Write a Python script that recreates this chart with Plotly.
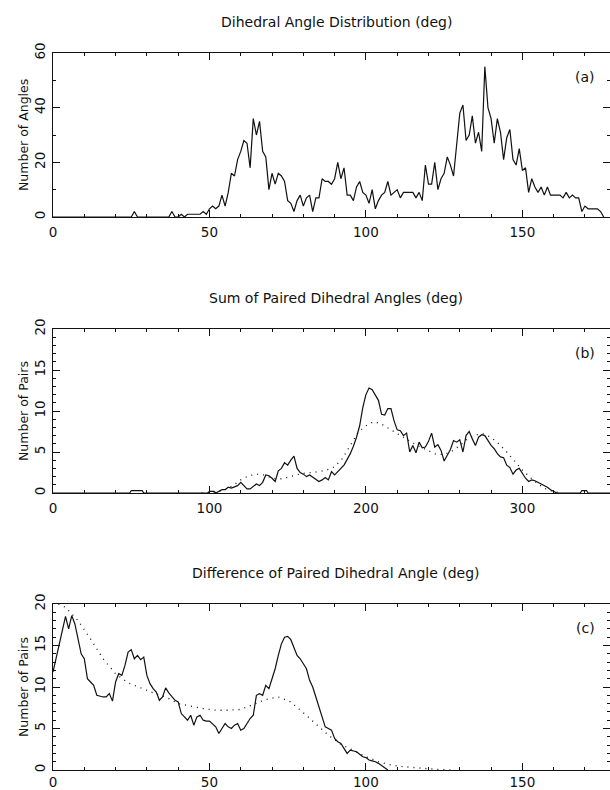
import plotly.graph_objects as go

# ---------------- data ----------------
# (a) Dihedral angle distribution, 1-degree bins 0..176
angle_x = list(range(0, 177))
angle_counts = [
    0, 0, 0, 0, 0, 0, 0, 0, 0, 0, 0, 0, 0, 0, 0, 0, 0, 0, 0, 0,
    0, 0, 0, 0, 0, 0, 2, 0, 0, 0, 0, 0, 0, 0, 0, 0, 0, 0, 2, 0,
    0, 1, 0, 1, 1, 1, 1, 1, 2, 1, 3, 4, 3, 4, 8, 4, 9, 16, 15, 21,
    24, 28, 27, 18, 36, 30, 35, 24, 22, 10, 16, 12, 16, 15, 13, 6, 5, 2, 6, 8,
    4, 7, 8, 2, 7, 7, 14, 13, 13, 12, 14, 20, 14, 18, 8, 8, 6, 11, 13, 9,
    8, 5, 10, 3, 6, 8, 9, 13, 8, 9, 10, 7, 9, 9, 9, 9, 7, 9, 6, 19,
    12, 12, 20, 10, 14, 16, 22, 19, 15, 28, 38, 41, 28, 30, 37, 27, 31, 24, 55, 40,
    36, 27, 36, 31, 21, 29, 32, 21, 19, 25, 17, 18, 9, 14, 11, 9, 11, 8, 11, 8,
    8, 8, 8, 7, 9, 7, 8, 7, 7, 2, 4, 3, 3, 3, 3, 2, 0,
]

# (b) Sum of paired dihedral angles
sum_x = [0, 49, 50, 57, 58, 99, 100, 103, 104, 106, 108, 110, 112, 114, 116, 118,
         120, 122, 124, 126, 128, 130, 132, 134, 136, 138, 140, 142, 144, 146, 148,
         150, 152, 154, 156, 158, 160, 162, 164, 166, 168, 170, 172, 174, 176, 178,
         180, 182, 184, 186, 188, 190, 192, 194, 196, 198, 200, 202, 204, 206, 208,
         210, 212, 214, 216, 218, 220, 222, 224, 226, 228, 230, 232, 234, 236, 238,
         240, 242, 244, 246, 248, 250, 252, 254, 256, 258, 260, 262, 264, 266, 268,
         270, 272, 274, 276, 278, 280, 282, 284, 286, 288, 290, 292, 294, 296, 298,
         300, 302, 304, 306, 308, 310, 312, 314, 316, 318, 320, 322, 337, 338, 341,
         342, 356]
sum_pairs = [0, 0, 0.3, 0.3, 0, 0, 0.2, 0.2, 0, 0.2, 0.4, 0.4, 0.7, 0.6, 0.8, 0.9,
             1.3, 0.9, 0.5, 0.5, 0.8, 1.1, 0.9, 1.3, 2.2, 2.1, 1.8, 1.4, 2.7, 3.0, 3.7,
             3.4, 4.0, 4.5, 3.0, 2.5, 2.3, 2.0, 2.2, 1.9, 1.6, 1.4, 1.6, 1.9, 1.6, 2.6,
             2.2, 2.6, 2.9, 3.4, 4.1, 4.8, 5.7, 6.8, 8.2, 10.4, 12.0, 12.8, 12.6, 12.0, 11.3,
             9.6, 9.5, 10.3, 10.3, 8.8, 7.7, 7.6, 7.0, 7.3, 5.0, 5.8, 4.9, 6.2, 5.5, 5.6,
             6.3, 7.3, 5.6, 5.9, 5.2, 3.9, 4.6, 5.3, 6.4, 6.2, 6.5, 5.0, 7.0, 7.5, 6.6,
             5.8, 6.8, 7.1, 7.0, 6.4, 5.8, 5.4, 4.8, 4.4, 4.3, 3.4, 3.1, 2.3, 2.8, 3.0,
             2.4, 1.8, 1.4, 1.6, 1.5, 1.3, 1.2, 0.9, 0.7, 0.4, 0.2, 0, 0, 0.3, 0.3,
             0, 0]
sum_ref_x = [95, 100, 105, 110, 115, 120, 125, 130, 135, 140, 145, 150, 155, 160, 165,
             170, 175, 180, 185, 190, 195, 200, 205, 210, 215, 220, 225, 230, 235, 240,
             245, 250, 255, 260, 265, 270, 275, 280, 285, 290, 295, 300, 305, 310, 315,
             320, 325]
sum_ref = [0, 0, 0.1, 0.4, 0.9, 1.6, 2.1, 2.3, 2.2, 1.8, 1.7, 1.9, 2.2, 2.4, 2.5,
           2.6, 2.8, 3.2, 4.2, 5.8, 7.4, 8.2, 8.7, 8.4, 7.8, 7.2, 6.6, 6.1, 5.6, 5.1,
           4.7, 4.7, 5.1, 5.8, 6.6, 7.1, 7.2, 6.8, 6.0, 5.0, 3.9, 2.8, 1.9, 1.1, 0.5,
           0.15, 0]

# (c) Difference of paired dihedral angles
diff_x = list(range(0, 108))
diff_pairs = [
    11.8, 13.5, 15.0, 17.0, 18.5, 17.0, 18.6, 17.6, 15.8, 14.0,
    13.4, 11.0, 10.6, 10.2, 9.0, 8.9, 8.8, 8.8, 9.2, 8.3,
    10.6, 11.6, 11.4, 12.6, 14.2, 14.5, 13.4, 13.8, 13.3, 13.6,
    11.4, 10.4, 9.8, 9.4, 8.4, 8.8, 9.9, 9.3, 8.8, 8.4,
    8.2, 6.8, 6.4, 6.0, 6.6, 5.4, 6.4, 6.6, 6.0, 5.9,
    5.9, 5.6, 5.2, 4.4, 5.0, 5.6, 5.2, 5.0, 5.4, 5.6,
    4.8, 5.0, 5.6, 6.2, 6.6, 9.0, 9.2, 9.0, 10.2, 9.8,
    11.0, 12.2, 13.8, 15.2, 16.0, 16.1, 15.7, 14.8, 13.8, 13.4,
    12.8, 12.2, 10.8, 10.0, 8.8, 7.6, 6.6, 5.2, 5.0, 4.8,
    3.8, 3.4, 3.2, 2.6, 2.0, 2.4, 2.3, 2.2, 1.9, 1.6,
    1.5, 1.2, 1.1, 1.0, 0.8, 0.5, 0.2, 0.0,
]
diff_ref_x = [0, 4, 8, 12, 16, 20, 24, 28, 32, 36, 40, 44, 48, 52, 56, 60, 64, 68,
              72, 76, 80, 84, 88, 92, 96, 100, 104, 108, 112, 116, 120, 124, 128]
diff_ref = [20.3, 19.6, 18.0, 15.8, 13.4, 11.6, 10.5, 9.9, 9.3, 8.8, 8.0, 7.7, 7.4,
            7.2, 7.2, 7.3, 7.9, 8.5, 8.8, 8.2, 6.9, 5.6, 4.2, 3.1, 2.3, 1.6, 1.0,
            0.6, 0.4, 0.25, 0.15, 0.05, 0]

titles = ["Dihedral Angle Distribution (deg)",
          "Sum of Paired Dihedral Angles (deg)",
          "Difference of Paired Dihedral Angle (deg)"]
ytitles = ["Number of Angles", "Number of Pairs", "Number of Pairs"]
tags = ["(a)", "(b)", "(c)"]

# ---------------- layout helpers ----------------
W, H = 610, 790
ML = 53
PW = W - ML

def py(pix):  # pixel row -> paper fraction
    return (H - pix) / H

def px(pix):  # pixel column -> paper fraction
    return (pix - ML) / PW

panels = [(53, 217), (329, 493), (604, 770)]
FONT = "DejaVu Sans"
INK = "#111111"

fig = go.Figure()
line_solid = dict(color=INK, width=1.2)
line_dot = dict(color=INK, width=1.3, dash="1px,5px")

fig.add_trace(go.Scatter(x=angle_x, y=angle_counts, mode="lines", line=line_solid,
                         xaxis="x", yaxis="y", showlegend=False))
fig.add_trace(go.Scatter(x=sum_ref_x, y=sum_ref, mode="lines", line=line_dot,
                         xaxis="x2", yaxis="y2", showlegend=False))
fig.add_trace(go.Scatter(x=sum_x, y=sum_pairs, mode="lines", line=line_solid,
                         xaxis="x2", yaxis="y2", showlegend=False))
fig.add_trace(go.Scatter(x=diff_ref_x, y=diff_ref, mode="lines", line=line_dot,
                         xaxis="x3", yaxis="y3", showlegend=False))
fig.add_trace(go.Scatter(x=diff_x, y=diff_pairs, mode="lines", line=line_solid,
                         xaxis="x3", yaxis="y3", showlegend=False))

xcfg = [(178, 50, 10), (356, 100, 20), (178, 50, 10)]
ycfg = [(60, 20, 10), (20, 5, 1), (20, 5, 1)]
xstand = [3, 3, 0]

layout = dict(
    width=W, height=H,
    margin=dict(l=ML, r=0, t=0, b=0, pad=0),
    paper_bgcolor="white", plot_bgcolor="white",
    font=dict(family=FONT, color=INK),
    annotations=[],
)

for i, ((top, bot), (xr, xd, xm), (yr, yd, ym)) in enumerate(zip(panels, xcfg, ycfg)):
    sfx = "" if i == 0 else str(i + 1)
    layout["xaxis" + sfx] = dict(
        domain=[0, 1], range=[0, xr], anchor="y" + sfx,
        tickmode="linear", tick0=0, dtick=xd,
        ticks="inside", ticklen=7, tickwidth=1, tickcolor=INK,
        minor=dict(ticks="inside", dtick=xm, tick0=0, ticklen=3, tickcolor=INK, showgrid=False),
        showline=True, linecolor=INK, linewidth=1, mirror="ticks",
        showgrid=False, zeroline=False, automargin=False,
        tickfont=dict(family=FONT, size=13.5, color=INK),
        ticklabelstandoff=xstand[i],
    )
    layout["yaxis" + sfx] = dict(
        domain=[py(bot), py(top)], range=[0, yr], anchor="x" + sfx,
        tickmode="linear", tick0=0, dtick=yd,
        ticks="inside", ticklen=7, tickwidth=1, tickcolor=INK,
        minor=dict(ticks="inside", dtick=ym, tick0=0, ticklen=3, tickcolor=INK, showgrid=False),
        showline=True, linecolor=INK, linewidth=1, mirror="ticks",
        showgrid=False, zeroline=False, automargin=False,
        tickangle=-90,
        tickfont=dict(family=FONT, size=13.5, color=INK),
        ticklabelstandoff=2,
    )
    layout["annotations"].append(dict(
        text=titles[i], xref="paper", yref="paper", x=px(336), y=py(top - 31),
        xanchor="center", yanchor="middle", showarrow=False,
        font=dict(family=FONT, size=14, color=INK)))
    layout["annotations"].append(dict(
        text=ytitles[i], xref="paper", yref="paper", x=px(23), y=py((top + bot) / 2),
        xanchor="center", yanchor="middle", textangle=-90, showarrow=False,
        font=dict(family=FONT, size=12.5, color=INK)))
    layout["annotations"].append(dict(
        text=tags[i], xref="paper", yref="paper", x=px(585), y=py(top + 24),
        xanchor="center", yanchor="middle", showarrow=False,
        font=dict(family=FONT, size=14, color=INK)))

fig.update_layout(**layout)
fig.write_html("out.html")
